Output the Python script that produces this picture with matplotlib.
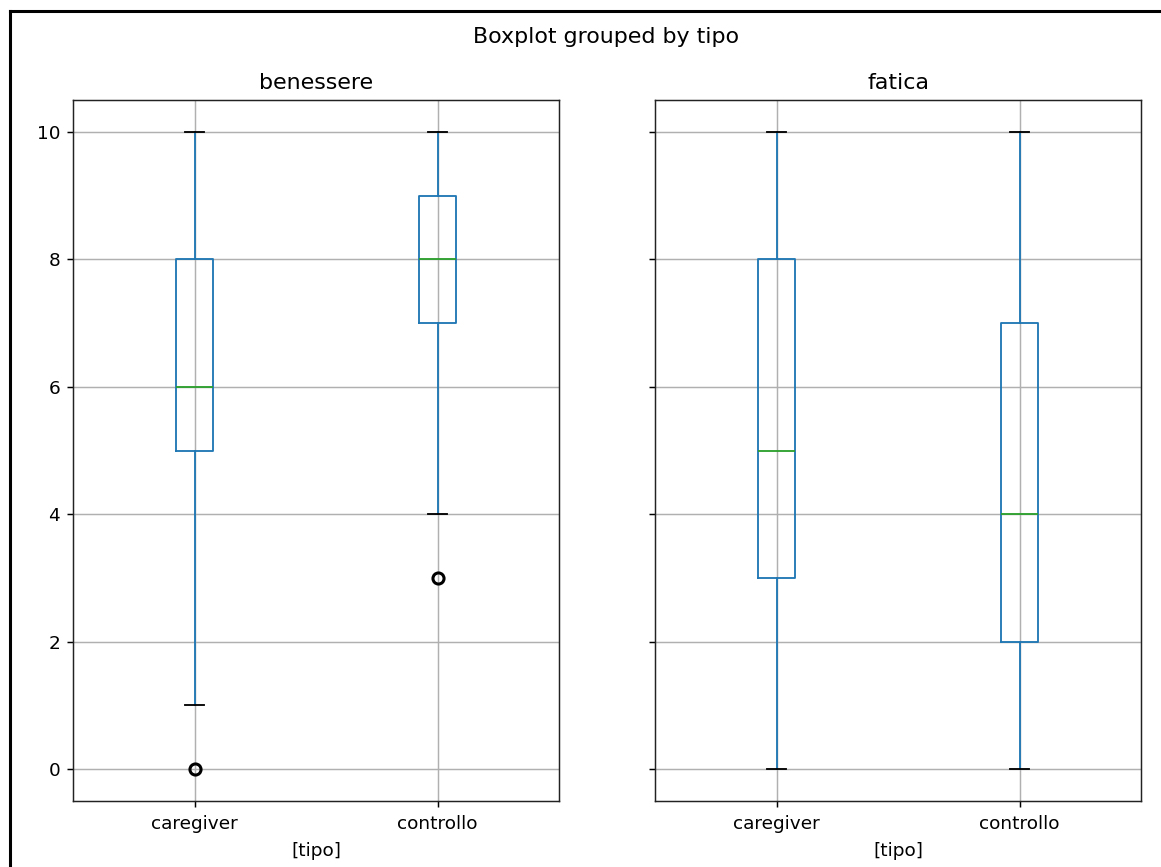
import matplotlib
matplotlib.use("Agg")
import matplotlib.pyplot as plt
from matplotlib.lines import Line2D

W, H = 1161, 867
S = 1.33  # scale factor
categories = ["caregiver", "controllo"]
panels = ["benessere", "fatica"]
# whislo, q1, med, q3, whishi, fliers
stats_values = {
    "benessere": [
        (1, 5, 6, 8, 10, [0]),
        (4, 7, 8, 9, 10, [3]),
    ],
    "fatica": [
        (0, 3, 5, 8, 10, []),
        (0, 2, 4, 7, 10, []),
    ],
}
yticks = [0, 2, 4, 6, 8, 10]

plt.rcParams["axes.linewidth"] = 0.8 * S
plt.rcParams["xtick.major.width"] = 0.8 * S
plt.rcParams["ytick.major.width"] = 0.8 * S
plt.rcParams["xtick.major.size"] = 3.5 * S
plt.rcParams["ytick.major.size"] = 3.5 * S
plt.rcParams["xtick.major.pad"] = 3.5 * S + 1
plt.rcParams["ytick.major.pad"] = 3.5 * S
plt.rcParams["axes.titlepad"] = 6 * S
plt.rcParams["axes.labelpad"] = 4 * S + 1
plt.rcParams["axes.edgecolor"] = "#222222"

fig = plt.figure(figsize=(W / 100, H / 100), dpi=100)
ax1 = fig.add_axes([73 / W, 1 - 801 / H, (559 - 73) / W, (801 - 100) / H])
ax2 = fig.add_axes([655 / W, 1 - 801 / H, (1141 - 655) / W, (801 - 100) / H], sharey=ax1)

for ax, name in zip([ax1, ax2], panels):
    stats = []
    for cat, (lo, q1, med, q3, hi, fl) in zip(categories, stats_values[name]):
        stats.append(dict(whislo=lo, q1=q1, med=med, q3=q3, whishi=hi, fliers=fl, label=cat))
    ax.bxp(stats, widths=0.15,
           boxprops=dict(color="#1f77b4", linewidth=S),
           whiskerprops=dict(color="#1f77b4", linewidth=S),
           capprops=dict(color="black", linewidth=S),
           medianprops=dict(color="#2ca02c", linewidth=S),
           flierprops=dict(marker="o", markerfacecolor="none", markeredgecolor="black",
                           markeredgewidth=2.2, markersize=6 * S))
    ax.grid(True, color="#b0b0b0", linewidth=0.8 * S)
    ax.set_axisbelow(True)
    ax.set_title(name, fontsize=12 * S)
    ax.set_xlabel("[tipo]", fontsize=10 * S)
    ax.tick_params(labelsize=10 * S)
    ax.set_xlim(0.5, 2.5)

ax1.set_ylim(-0.5, 10.5)
ax1.set_yticks(yticks)
ax2.tick_params(labelleft=False)

fig.suptitle("Boxplot grouped by tipo", fontsize=12 * S, x=606 / W, y=1 - 37 / H, va="center")

fig.add_artist(Line2D([9.5 / W, 9.5 / W], [0, 1 - 10.5 / H], color="black", linewidth=2.2,
                      transform=fig.transFigure))
fig.add_artist(Line2D([9.5 / W, 1], [1 - 10.5 / H, 1 - 10.5 / H], color="black", linewidth=2.2,
                      transform=fig.transFigure))

fig.savefig("out.png", dpi=100)
